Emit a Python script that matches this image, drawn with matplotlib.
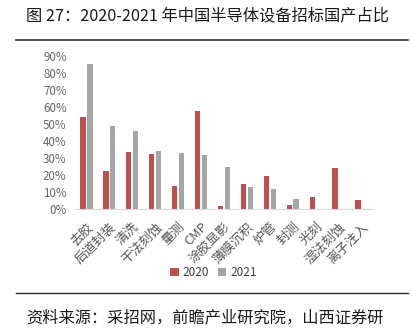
import matplotlib.pyplot as plt
import numpy as np
from matplotlib.lines import Line2D

plt.rcParams['font.family'] = ['Noto Sans CJK SC', 'DejaVu Sans']

# equipment categories and domestic share (%) per year
categories = ['去胶', '后道封装', '清洗', '干法刻蚀', '量测', 'CMP', '涂胶显影',
              '薄膜沉积', '炉管', '封测', '光刻', '湿法刻蚀', '离子注入']
share_2020 = [54.2, 22.3, 33.6, 32.2, 13.3, 57.4, 2.1, 14.6, 19.3, 2.3, 7.4, 24.4, 5.3]
share_2021 = [85.1, 48.6, 46.0, 34.2, 32.8, 31.8, 25.0, 13.1, 11.9, 5.9, 0, 0, 0]

red = '#C0504D'
gray = '#A5A5A5'

fig = plt.figure(figsize=(4.12, 3.31), dpi=100)
ax = fig.add_axes([0.182, 0.368, 0.723, 0.464])

x = np.arange(len(categories))
w = 0.23
ax.bar(x - 0.15, share_2020, w, color=red, label='2020')
ax.bar(x + 0.15, share_2021, w, color=gray, label='2021')

ax.set_xlim(-0.5, len(categories) - 0.5)
ax.set_ylim(0, 90)
ax.set_yticks(range(0, 91, 10))
ax.set_yticklabels([f'{v}%' for v in range(0, 91, 10)], fontsize=8.3, color='#666666')
ax.set_xticks(x)
ax.set_xticklabels(categories, rotation=45, ha='right', rotation_mode='anchor',
                   fontsize=9.3, color='#555555')
ax.tick_params(axis='y', length=0, pad=6)
ax.tick_params(axis='x', length=0, pad=8)
for s in ['top', 'right', 'left']:
    ax.spines[s].set_visible(False)
ax.spines['bottom'].set_color('#D9D9D9')

ax.legend(loc='center', bbox_to_anchor=(0.465, -0.415), ncol=2, frameon=False,
          fontsize=8.5, handlelength=0.7, handleheight=0.7, handletextpad=0.3,
          columnspacing=0.8, labelcolor='#404040')

# title, rules and source line
fig.text(0.063, 0.951, '图 27：2020-2021 年中国半导体设备招标国产占比',
         fontsize=11.7, va='center', ha='left', color='#1a1a1a')
fig.add_artist(Line2D([0.039, 0.99], [0.878, 0.878], color='#2b2b2b', lw=1.2))
fig.add_artist(Line2D([0.039, 0.99], [0.115, 0.115], color='#2b2b2b', lw=1.0))
fig.text(0.063, 0.04, '资料来源：采招网，前瞻产业研究院，山西证券研',
         fontsize=11.7, va='center', ha='left', color='#1a1a1a')

fig.savefig('out.png', dpi=100)
